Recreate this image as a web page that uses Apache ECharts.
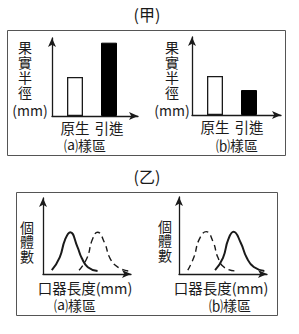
<!DOCTYPE html>
<html><head><meta charset="utf-8">
<script src="https://cdn.jsdelivr.net/npm/echarts@6/dist/echarts.min.js"></script>
<style>html,body{margin:0;padding:0;background:#fff}#c{width:299px;height:334px}</style>
</head><body><div id="c"></div>
<script>
const barCategories = ['原生', '引進'];
const barValuesA = [50, 94];
const barValuesB = [50, 32];
const curveSolidA = [[10,5],[19,22],[25,45],[31,55],[39,36],[44,21],[51,9],[62,4]];
const curveDashedA = [[41,5],[50,21],[56,45],[62,55],[70,41],[76,21],[85,9],[97,4]];
const curveDashedB = [[10,5],[17,22],[23,45],[31,55],[39,41],[44,22],[51,9],[63,4]];
const curveSolidB = [[41,5],[50,21],[56,45],[62,55],[70,41],[77,21],[85,9],[97,4]];

const FONT = '"Noto Sans CJK TC", "Noto Sans CJK SC", sans-serif';
const INK = '#1a1a1a';
const chart = echarts.init(document.getElementById('c'), null, {renderer: 'svg'});

function g(left, top, width, height) {
  return {left, top, width, height, containLabel: false, outerBoundsMode: 'none'};
}
const arrowLine = {show: true, symbol: ['none', 'arrow'], symbolSize: [6, 9], lineStyle: {color: INK, width: 1.3}};
function frameX(gi) { return {type: 'value', gridIndex: gi, min: 0, max: 100, axisLine: arrowLine, axisTick: {show: false}, axisLabel: {show: false}, splitLine: {show: false}}; }
function frameY(gi) { return {type: 'value', gridIndex: gi, min: 0, max: 100, axisLine: arrowLine, axisTick: {show: false}, axisLabel: {show: false}, splitLine: {show: false}}; }
function catX(gi) { return {type: 'category', gridIndex: gi, data: barCategories, axisLine: {show: false}, axisTick: {show: false}, axisLabel: {interval: 0, hideOverlap: false, color: INK, fontFamily: FONT, fontSize: 14.5, margin: 4}}; }
function hidY(gi) { return {type: 'value', gridIndex: gi, min: 0, max: 100, show: false, splitLine: {show: false}}; }

function vtext(str, x, yCenter, step, size) {
  return {type: 'text', x: x, y: yCenter,
    style: {text: str.split('').join('\n'), fill: INK, font: size + 'px ' + FONT, lineHeight: step, textAlign: 'center', textVerticalAlign: 'middle'}};
}
function htext(str, x, y, size) {
  return {type: 'text', x: x, y: y, style: {text: str, fill: INK, font: size + 'px ' + FONT, textAlign: 'center', textVerticalAlign: 'middle'}};
}

const barStyle = [
  {color: '#fff', borderColor: INK, borderWidth: 1.3},
  {color: '#000', borderColor: '#000', borderWidth: 1}
];
function barData(vals) { return vals.map((v, i) => ({value: v, itemStyle: barStyle[i]})); }

const option = {
  animation: false,
  grid: [
    g(52, 38, 86, 78),   // frame a
    g(58, 38, 68, 78),   // bars a
    g(192, 37, 89, 78),  // frame b
    g(198, 37, 68, 78),  // bars b
    g(43, 198, 88, 76),  // curves a
    g(179, 197, 88, 77)  // curves b
  ],
  xAxis: [frameX(0), catX(1), frameX(2), catX(3), frameX(4), frameX(5)],
  yAxis: [frameY(0), hidY(1), frameY(2), hidY(3), frameY(4), frameY(5)],
  series: [
    {type: 'bar', xAxisIndex: 1, yAxisIndex: 1, barWidth: 16, data: barData(barValuesA)},
    {type: 'bar', xAxisIndex: 3, yAxisIndex: 3, barWidth: 16, data: barData(barValuesB)},
    {type: 'line', xAxisIndex: 4, yAxisIndex: 4, data: curveSolidA, smooth: 0.5, showSymbol: false, lineStyle: {color: INK, width: 2}},
    {type: 'line', xAxisIndex: 4, yAxisIndex: 4, data: curveDashedA, smooth: 0.5, showSymbol: false, lineStyle: {color: INK, width: 1.4, type: [6, 4]}},
    {type: 'line', xAxisIndex: 5, yAxisIndex: 5, data: curveDashedB, smooth: 0.5, showSymbol: false, lineStyle: {color: INK, width: 1.4, type: [6, 4]}},
    {type: 'line', xAxisIndex: 5, yAxisIndex: 5, data: curveSolidB, smooth: 0.5, showSymbol: false, lineStyle: {color: INK, width: 2}}
  ],
  graphic: [
    {type: 'rect', shape: {x: 7.5, y: 30.5, width: 278, height: 125}, style: {fill: 'none', stroke: '#555', lineWidth: 1}},
    {type: 'rect', shape: {x: 16.5, y: 192.5, width: 261, height: 123}, style: {fill: 'none', stroke: '#555', lineWidth: 1}},
    htext('(甲)', 147, 14, 16),
    htext('(乙)', 147, 176, 16),
    vtext('果實半徑', 25, 69.5, 15, 14),
    htext('(mm)', 30, 110, 14),
    vtext('果實半徑', 172, 69.5, 15, 14),
    htext('(mm)', 172, 110, 14),
    htext('⒜樣區', 85, 145, 14),
    htext('⒝樣區', 237, 145, 14),
    vtext('個體數', 27, 241, 14.5, 14),
    vtext('個體數', 165, 240, 14.5, 14),
    htext('口器長度(mm)', 85, 287, 14.5),
    htext('口器長度(mm)', 221, 287, 14.5),
    htext('⒜樣區', 75, 305, 14),
    htext('⒝樣區', 230, 305, 14)
  ]
};
chart.setOption(option);
</script></body></html>
